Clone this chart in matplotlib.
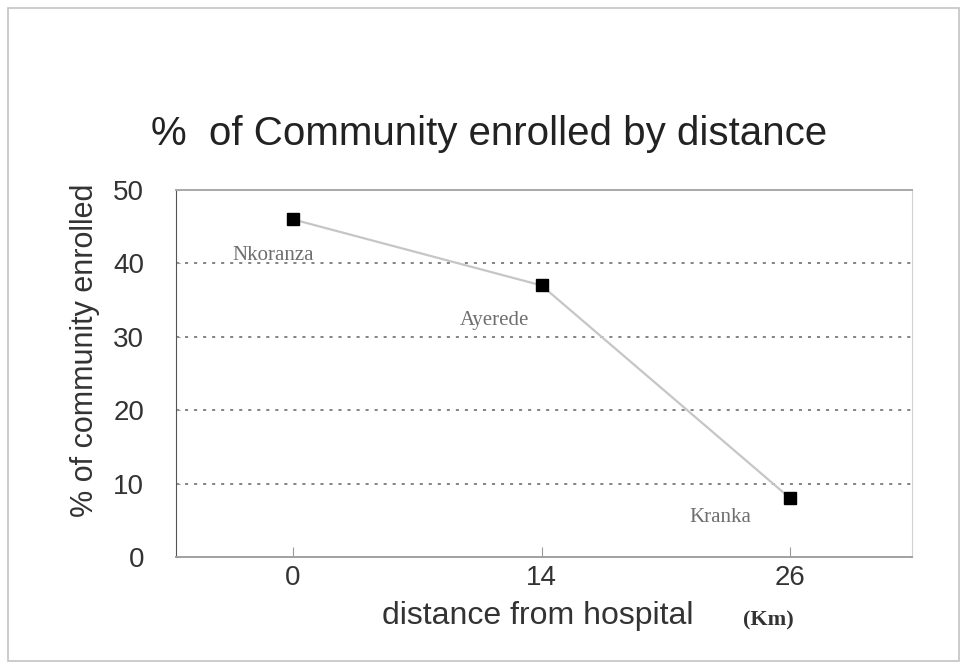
"""% of community enrolled by distance from hospital."""

import matplotlib

matplotlib.use("Agg")
import matplotlib.pyplot as plt  # noqa: E402
from matplotlib.patches import Rectangle  # noqa: E402

distances = ["0", "14", "26"]
communities = ["Nkoranza", "Ayerede", "Kranka"]
enrolled = [46, 37, 8]
y_ticks = [0, 10, 20, 30, 40, 50]

plt.rcParams["font.family"] = ["Liberation Sans", "DejaVu Sans"]
SERIF = ["Liberation Serif", "DejaVu Serif"]
W, H = 967, 669

fig = plt.figure(figsize=(W / 100, H / 100), dpi=100)
ax = fig.add_axes([176 / W, 1 - 557 / H, 736 / W, 367 / H])

# scanned-page border around the whole chart
fig.patches.append(Rectangle((8 / W, 8 / H), 951 / W, 653 / H,
                             transform=fig.transFigure, fill=False,
                             edgecolor="#c4c4c4", linewidth=1.2))

x = list(range(len(distances)))
ax.plot(x, enrolled, color="#c6c6c6", linewidth=1.6, zorder=2)
ax.plot(x, enrolled, linestyle="none", marker="s", markersize=8,
        color="black", zorder=3)

# label offsets in points relative to each point
label_offsets = [(-14, -26), (-34, -25), (-50, -14)]
for xi, yi, name, off in zip(x, enrolled, communities, label_offsets):
    ax.annotate(name, (xi, yi), xytext=off, textcoords="offset points",
                ha="center", va="center", fontsize=15, color="#6e6e6e",
                family=SERIF)

ax.set_xlim(-0.47, 2.49)
ax.set_ylim(0, 50)
ax.set_yticks(y_ticks)
ax.set_xticks(x)
ax.set_xticklabels(distances)
ax.tick_params(axis="both", labelsize=20, colors="#333333", direction="in")
ax.tick_params(axis="x", length=7, pad=6, color="#999999")
ax.tick_params(axis="y", length=3, pad=23, color="#999999")

for yv in y_ticks[1:-1]:
    ax.axhline(yv, color="#7a7a7a", linestyle=(0, (1.7, 3.3)), linewidth=1.3,
               zorder=1)

ax.spines["top"].set_color("#a8a8a8")
ax.spines["top"].set_linewidth(1.4)
ax.spines["right"].set_color("#d2d2d2")
ax.spines["left"].set_color("#555555")
ax.spines["bottom"].set_color("#a0a0a0")
ax.spines["bottom"].set_linewidth(1.4)

fig.text(85 / W, 1 - 350 / H, "% of community enrolled", rotation=90,
         ha="center", va="center", fontsize=22, color="#333333")
fig.text(538 / W, 1 - 624 / H, "distance from hospital", ha="center",
         va="baseline", fontsize=23, color="#333333")
fig.text(768 / W, 1 - 625 / H, "(Km)", ha="center", va="baseline",
         fontsize=16, fontweight="bold", color="#333333", family=SERIF)

fig.text(489 / W, 1 - 145 / H, "%  of Community enrolled by distance",
         ha="center", va="baseline", fontsize=29, color="#222222")

fig.savefig("out.png", dpi=100)
plt.close(fig)
